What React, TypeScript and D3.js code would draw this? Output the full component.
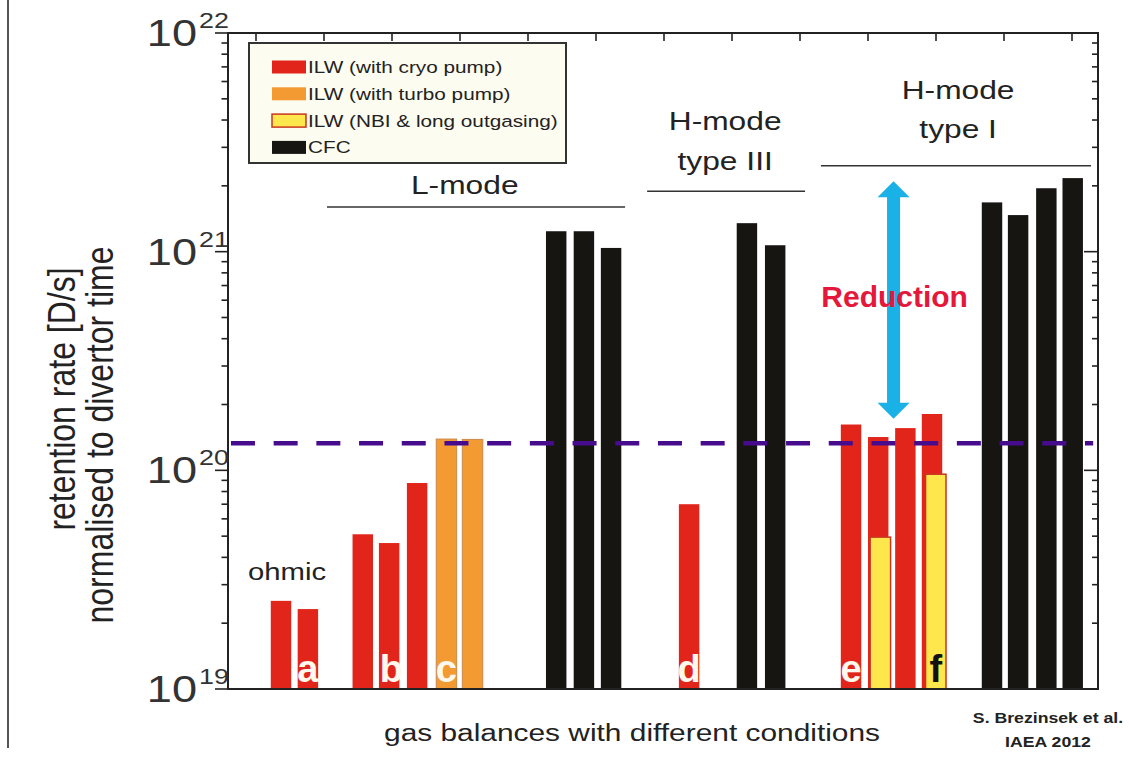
import { useEffect, useRef } from 'react';
import * as d3 from 'd3';

// bar positions (slot units along the x axis) and retention rates [D/s]
const barSlots = [1.97, 2.97, 5.01, 5.99, 7.03, 8.12, 9.09, 12.2, 13.23, 14.24, 17.14, 19.29, 20.34, 23.16, 24.17, 25.18, 26.17, 28.4, 29.37, 30.42, 31.4];
const barValues = [2.53e19, 2.32e19, 5.1e19, 4.65e19, 8.75e19, 1.39e20, 1.385e20, 1.24e21, 1.24e21, 1.04e21, 7.0e19, 1.35e21, 1.07e21, 1.62e20, 1.42e20, 1.56e20, 1.81e20, 1.68e21, 1.47e21, 1.95e21, 2.17e21];
const barKinds = ['cryo', 'cryo', 'cryo', 'cryo', 'cryo', 'turbo', 'turbo', 'cfc', 'cfc', 'cfc', 'cryo', 'cfc', 'cfc', 'cryo', 'cryo', 'cryo', 'cryo', 'cfc', 'cfc', 'cfc', 'cfc'];

// NBI & long outgasing bars (drawn over the cryo bars)
const nbiSlots = [24.25, 26.31];
const nbiValues = [4.95e19, 9.6e19];

// letters under bars
const letterText = ['a', 'b', 'c', 'd', 'e', 'f'];
const letterSlots = [2.97, 6.07, 8.12, 17.14, 23.16, 26.31];

// group brackets
const groupStart = [3.68, 15.58, 22.04];
const groupEnd = [14.76, 21.45, 32.08];
const groupLineValue = [1.6e21, 1.89e21, 2.47e21];
const groupCenter = [8.8, 18.48, 27.14];
const groupLabels = [['L-mode'], ['H-mode', 'type III'], ['H-mode', 'type I']];
const groupLabelValues = [[1.84e21], [3.6e21, 2.36e21], [5.0e21, 3.31e21]];

const thresholdValue = 1.33e20;

const legendLabels = ['ILW (with cryo pump)', 'ILW (with turbo pump)', 'ILW (NBI & long outgasing)', 'CFC'];
const legendKinds = ['cryo', 'turbo', 'nbi', 'cfc'];

const decades = [19, 20, 21, 22];

const colors = {
  cryo: '#e1251b',
  turbo: '#f39a32',
  nbi: '#fde74c',
  cfc: '#171512',
};

const FONT = '"Liberation Sans", Arial, Helvetica, sans-serif';
const SX = 1.22; // the original figure is stretched horizontally

function App() {
  const svgRef = useRef(null);

  useEffect(() => {
    const W = 1129;
    const H = 759;
    const left = 228, right = 1098, top = 33, bottom = 689;

    const svg = d3.select(svgRef.current);
    svg.selectAll('*').remove();
    svg.attr('width', W).attr('height', H).attr('viewBox', `0 0 ${W} ${H}`);

    svg.append('rect').attr('width', W).attr('height', H).attr('fill', '#fff');

    const x = d3.scaleLinear().domain([0, 32.34]).range([left, right]);
    const y = d3.scaleLog().domain([1e19, 1e22]).range([bottom, top]);
    const xTop = d3.scaleLinear().domain([0, 12]).range([256, 1072]);
    const barW = x(0.76) - x(0);

    // page edge line
    svg.append('line').attr('x1', 8).attr('x2', 8).attr('y1', 0).attr('y2', 748)
      .attr('stroke', '#555').attr('stroke-width', 2);

    const stretched = (px, py, txt, size, opts = {}) => {
      const g = svg.append('g').attr('transform', `translate(${px},${py}) scale(${opts.sx ?? SX},1)`);
      return g.append('text')
        .attr('text-anchor', opts.anchor ?? 'middle')
        .attr('font-family', FONT)
        .attr('font-size', size)
        .attr('font-weight', opts.bold ? 'bold' : 'normal')
        .attr('fill', opts.fill ?? '#222')
        .text(txt);
    };

    // bars
    svg.append('g')
      .selectAll('rect')
      .data(barSlots.map((s, i) => ({ s, v: barValues[i], k: barKinds[i] })))
      .enter()
      .append('rect')
      .attr('x', (d) => x(d.s) - barW / 2)
      .attr('y', (d) => y(d.v))
      .attr('width', barW)
      .attr('height', (d) => bottom - y(d.v))
      .attr('fill', (d) => colors[d.k])
      .attr('stroke', (d) => (d.k === 'turbo' ? '#c98a4c' : 'none'))
      .attr('stroke-width', 1);

    svg.append('g')
      .selectAll('rect')
      .data(nbiSlots.map((s, i) => ({ s, v: nbiValues[i] })))
      .enter()
      .append('rect')
      .attr('x', (d) => x(d.s) - barW / 2)
      .attr('y', (d) => y(d.v))
      .attr('width', barW)
      .attr('height', (d) => bottom - y(d.v))
      .attr('fill', colors.nbi)
      .attr('stroke', '#c9361f')
      .attr('stroke-width', 1.5);

    // frame
    svg.append('rect')
      .attr('x', left).attr('y', top)
      .attr('width', right - left).attr('height', bottom - top)
      .attr('fill', 'none').attr('stroke', '#222').attr('stroke-width', 2);

    // log ticks left (outward) and right (inward)
    const minor = [];
    decades.slice(0, 3).forEach((e) => d3.range(2, 10).forEach((m) => minor.push(m * Math.pow(10, e))));
    const major = decades.map((e) => Math.pow(10, e));
    const tk = svg.append('g').attr('stroke', '#222').attr('stroke-width', 1.6);
    major.forEach((v) => {
      tk.append('line').attr('x1', left - 13).attr('x2', left).attr('y1', y(v)).attr('y2', y(v));
      tk.append('line').attr('x1', right - 14).attr('x2', right).attr('y1', y(v)).attr('y2', y(v));
    });
    minor.forEach((v) => {
      tk.append('line').attr('x1', left - 6.5).attr('x2', left).attr('y1', y(v)).attr('y2', y(v));
      tk.append('line').attr('x1', right - 6).attr('x2', right).attr('y1', y(v)).attr('y2', y(v));
    });
    xTop.ticks(12).forEach((t) => {
      tk.append('line').attr('x1', xTop(t)).attr('x2', xTop(t)).attr('y1', top).attr('y2', top + 8);
    });

    // tick labels 10^n
    decades.forEach((e) => {
      const ty = y(Math.pow(10, e));
      stretched(197, ty + 13, '10', 37, { anchor: 'end', fill: '#333' });
      stretched(199, ty - 5, String(e), 22, { anchor: 'start', fill: '#333' });
    });

    // y axis title
    const yt1 = svg.append('g').attr('transform', `translate(75,399) scale(${SX},1) rotate(-90)`);
    yt1.append('text').attr('text-anchor', 'middle').attr('font-family', FONT).attr('font-size', 32)
      .attr('fill', '#222').text('retention rate [D/s]');
    const yt2 = svg.append('g').attr('transform', `translate(113,435) scale(${SX},1) rotate(-90)`);
    yt2.append('text').attr('text-anchor', 'middle').attr('font-family', FONT).attr('font-size', 32)
      .attr('fill', '#222').text('normalised to divertor time');

    // x axis title
    stretched(632, 741, 'gas balances with different conditions', 24.5);

    // group brackets and labels
    groupStart.forEach((s, i) => {
      svg.append('line')
        .attr('x1', x(s)).attr('x2', x(groupEnd[i]))
        .attr('y1', y(groupLineValue[i])).attr('y2', y(groupLineValue[i]))
        .attr('stroke', '#333').attr('stroke-width', 1.5);
      groupLabels[i].forEach((lab, j) => {
        stretched(x(groupCenter[i]), y(groupLabelValues[i][j]), lab, 26);
      });
    });

    stretched(287, 580, 'ohmic', 24);

    // threshold dashed line
    svg.append('line')
      .attr('x1', x(0.11)).attr('x2', x(32.16))
      .attr('y1', y(thresholdValue)).attr('y2', y(thresholdValue))
      .attr('stroke', '#470c8e').attr('stroke-width', 4.5)
      .attr('stroke-dasharray', '24 18.7');

    // letters
    letterText.forEach((l, i) => {
      svg.append('text')
        .attr('x', x(letterSlots[i])).attr('y', 682)
        .attr('text-anchor', 'middle')
        .attr('font-family', FONT).attr('font-weight', 'bold').attr('font-size', 38)
        .attr('fill', l === 'f' ? '#111' : '#fff8ec')
        .text(l);
    });

    // reduction arrow
    const ax = x(24.74);
    const aTop = y(2.1e21);
    const aBot = y(1.72e20);
    const hw = 16, hh = 16, sw = 6.5;
    const arrow = [
      [ax, aTop], [ax + hw, aTop + hh], [ax + sw, aTop + hh], [ax + sw, aBot - hh],
      [ax + hw, aBot - hh], [ax, aBot], [ax - hw, aBot - hh], [ax - sw, aBot - hh],
      [ax - sw, aTop + hh], [ax - hw, aTop + hh],
    ];
    svg.append('path').attr('d', d3.line()(arrow) + 'Z').attr('fill', '#1ab1e6');

    svg.append('text')
      .attr('x', x(24.78)).attr('y', y(5.6e20))
      .attr('text-anchor', 'middle')
      .attr('font-family', FONT).attr('font-weight', 'bold').attr('font-size', 30)
      .attr('fill', '#e5173a')
      .text('Reduction');

    // legend
    const lg = svg.append('g');
    lg.append('rect').attr('x', 249).attr('y', 43).attr('width', 317).attr('height', 120)
      .attr('fill', '#fdfcf0').attr('stroke', '#333').attr('stroke-width', 2);
    legendLabels.forEach((lab, i) => {
      const cy = 67 + i * 26.8;
      lg.append('rect').attr('x', 272).attr('y', cy - 6.5).attr('width', 34).attr('height', 13)
        .attr('fill', colors[legendKinds[i]])
        .attr('stroke', legendKinds[i] === 'nbi' ? '#c9361f' : 'none')
        .attr('stroke-width', 1.5);
      const g = lg.append('g').attr('transform', `translate(308,${cy + 6}) scale(${SX},1)`);
      g.append('text').attr('font-family', FONT).attr('font-size', 17).attr('fill', '#222').text(lab);
    });

    // source
    stretched(1048, 723, 'S. Brezinsek et al.', 14.5, { bold: true });
    stretched(1048, 747, 'IAEA 2012', 14.5, { bold: true });
  }, []);

  return (
    <svg ref={svgRef} style={{ position: 'absolute', left: 0, top: 0, display: 'block' }}></svg>
  );
}

export default App;
